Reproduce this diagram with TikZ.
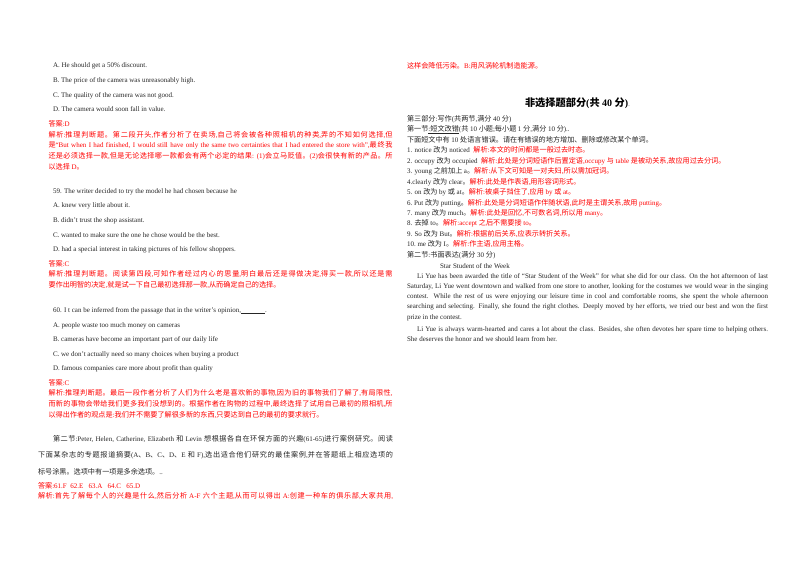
\documentclass[tikz,border=0pt]{standalone}
\usepackage{fontspec}
\setmainfont{Liberation Serif}
\newfontfamily\cjkfam[Scale=1.02]{Noto Sans CJK SC}
\makeatletter
\XeTeXinterchartokenstate=1
\newXeTeXintercharclass\cjkcl
\count@="3000 \loop\ifnum\count@<"3040 \XeTeXcharclass\count@=\cjkcl \advance\count@ 1 \repeat
\count@="4E00 \loop\ifnum\count@<"A000 \XeTeXcharclass\count@=\cjkcl \advance\count@ 1 \repeat
\count@="FF00 \loop\ifnum\count@<"FFF0 \XeTeXcharclass\count@=\cjkcl \advance\count@ 1 \repeat
\makeatother
\XeTeXinterchartoks 0 \cjkcl = {\cjkfam}
\XeTeXinterchartoks 4095 \cjkcl = {\cjkfam}
\XeTeXinterchartoks \cjkcl 0 = {\rmfamily}
\XeTeXinterchartoks 4095 0 = {\rmfamily}
\XeTeXinterchartoks \cjkcl \cjkcl = {\hskip 0pt plus 1pt minus .4pt}
\newcounter{lnno}
\tikzset{
  txtline/.style={anchor=base west,inner sep=0pt,outer sep=0pt,text=black!85,font=\fontsize{7}{8}\selectfont},
  ans/.style={txtline,text=red},
  pagebg/.style={fill=white,draw=none}
}
% natural width line: style, x, y, text
\newcommand{\tln}[4]{\stepcounter{lnno}\node[#1] (t\thelnno) at (#2,#3) {#4};}
% justified line: style, x, y, width, text
\newcommand{\jln}[5]{\stepcounter{lnno}\node[#1] (t\thelnno) at (#2,#3) {\makebox[#4pt][s]{#5}};}
\newcommand{\blank}{\underline{\hspace{24pt}}}
\begin{document}
\begin{tikzpicture}[x=1pt,y=-1pt]
\useasboundingbox (0,0) rectangle (800,566);
\fill[pagebg] (0,0) rectangle (800,566);
% left column
\tln{txtline}{53}{67.8}{A. He should get a 50\% discount.}
\tln{txtline}{53}{82.3}{B. The price of the camera was unreasonably high.}
\tln{txtline}{53}{97}{C. The quality of the camera was not good.}
\tln{txtline}{53}{111.5}{D. The camera would soon fall in value.}
\tln{ans}{48.5}{126}{答案:D}
\jln{ans}{48.5}{137}{344}{解析:推理判断题。第二段开头,作者分析了在卖场,自己将会被各种照相机的种类,弄的不知如何选择,但}
\jln{ans}{48.5}{147.5}{344}{是“But when I had finished, I would still have only the same two certainties that I had entered the store with”,最终我}
\jln{ans}{48.5}{158}{344}{还是必须选择一款,但是无论选择哪一款都会有两个必定的结果: (1)会立马贬值。(2)会很快有新的产品。所}
\tln{ans}{48.5}{169}{以选择 D。}
\tln{txtline}{53}{193}{59. The writer decided to try the model he had chosen because he}
\tln{txtline}{53}{207.6}{A. knew very little about it.}
\tln{txtline}{53}{222.3}{B. didn’t trust the shop assistant.}
\tln{txtline}{53}{237}{C. wanted to make sure the one he chose would be the best.}
\tln{txtline}{53}{251.7}{D. had a special interest in taking pictures of his fellow shoppers.}
\tln{ans}{48.5}{266}{答案:C}
\jln{ans}{48.5}{276.8}{344}{解析:推理判断题。阅读第四段,可知作者经过内心的思量,明白最后还是得做决定,得买一款,所以还是需}
\tln{ans}{48.5}{287.5}{要作出明智的决定,就是试一下自己最初选择那一款,从而确定自己的选择。}
\tln{txtline}{53}{312}{60. I t can be inferred from the passage that in the writer’s opinion,\blank.}
\tln{txtline}{53}{327}{A. people waste too much money on cameras}
\tln{txtline}{53}{341.5}{B. cameras have become an important part of our daily life}
\tln{txtline}{53}{356}{C. we don’t actually need so many choices when buying a product}
\tln{txtline}{53}{370.7}{D. famous companies care more about profit than quality}
\tln{ans}{48.5}{385}{答案:C}
\jln{ans}{48.5}{395.8}{344}{解析:推理判断题。最后一段作者分析了人们为什么老是喜欢新的事物,因为旧的事物我们了解了,有局限性,}
\jln{ans}{48.5}{406.3}{344}{而新的事物会带给我们更多我们没想到的。根据作者在购物的过程中,最终选择了试用自己最初的照相机,所}
\tln{ans}{48.5}{417}{以得出作者的观点是:我们并不需要了解很多新的东西,只要达到自己的最初的要求就行。}
\jln{txtline}{53}{441.8}{340}{第二节:Peter, Helen, Catherine, Elizabeth 和 Levin 想根据各自在环保方面的兴趣(61-65)进行案例研究。阅读}
\jln{txtline}{38}{457.3}{355}{下面某杂志的专题报道摘要(A、B、C、D、E 和 F),选出适合他们研究的最佳案例,并在答题纸上相应选项的}
\tln{txtline}{38}{474}{标号涂黑。选项中有一项是多余选项。..}
\tln{ans}{38}{488}{答案:61.F\ \ 62.E\ \ \ 63.A\ \ \ 64.C\ \ \ 65.D}
\jln{ans}{38}{498.5}{355}{解析:首先了解每个人的兴趣是什么,然后分析 A-F 六个主题,从而可以得出 A:创建一种车的俱乐部,大家共用,}
% right column
\tln{ans}{407}{68}{这样会降低污染。B:用风涡轮机制造能源。}
\node[txtline,font=\fontsize{10}{12}\selectfont\bfseries,text=black] (head) at (525,106) {非选择题部分(共 40 分)};
\node[txtline,font=\fontsize{4}{5}\selectfont] (headdots) at (head.base east) {..};
\tln{txtline}{407}{121}{第三部分:写作(共两节,满分 40 分)}
\tln{txtline}{407}{131.5}{第一节\underline{:短文改错}(共 10 小题;每小题 1 分,满分 10 分)..}
\tln{txtline}{407}{142}{下面短文中有 10 处语言错误。请在有错误的地方增加、删除或修改某个单词。}
\tln{txtline}{407}{152.5}{1. notice 改为 noticed\ \ \textcolor{red}{解析:本文的时间都是一般过去时态。}}
\tln{txtline}{407}{163}{2. occupy 改为 occupied\ \ \textcolor{red}{解析:此处是分词短语作后置定语,occupy 与 table 是被动关系,故应用过去分词。}}
\tln{txtline}{407}{173.5}{3. young 之前加上 a。\textcolor{red}{解析:从下文可知是一对夫妇,所以需加冠词。}}
\tln{txtline}{407}{184}{4.clearly 改为 clear。\textcolor{red}{解析:此处是作表语,用形容词形式。}}
\tln{txtline}{407}{194.5}{5. on 改为 by 或 at。\textcolor{red}{解析:被桌子挡住了,应用 by 或 at。}}
\tln{txtline}{407}{205}{6.\ Put 改为 putting。\textcolor{red}{解析:此处是分词短语作伴随状语,此时是主谓关系,故用 putting。}}
\tln{txtline}{407}{215.5}{7. many 改为 much。\textcolor{red}{解析:此处是回忆,不可数名词,所以用 many。}}
\tln{txtline}{407}{225.8}{8. 去掉 to。\textcolor{red}{解析:accept 之后不需要接 to。}}
\tln{txtline}{407}{236}{9. So 改为 But。\textcolor{red}{解析:根据前后关系,应表示转折关系。}}
\tln{txtline}{407}{246.8}{10.\ me 改为 I。\textcolor{red}{解析:作主语,应用主格。}}
\tln{txtline}{407}{257}{第二节:书面表达(满分 30 分)}
\tln{txtline}{440}{268}{Star Student of the Week}
\jln{txtline}{417}{278}{351}{Li Yue has been awarded the title of “Star Student of the Week” for what she did for our class. On the hot afternoon of last}
\jln{txtline}{407}{288}{361}{Saturday, Li Yue went downtown and walked from one store to another, looking for the costumes we would wear in the singing}
\jln{txtline}{407}{298.3}{361}{contest. While the rest of us were enjoying our leisure time in cool and comfortable rooms, she spent the whole afternoon}
\jln{txtline}{407}{308.7}{361}{searching and selecting. Finally, she found the right clothes. Deeply moved by her efforts, we tried our best and won the first}
\tln{txtline}{407}{319}{prize in the contest.}
\jln{txtline}{417}{331}{351}{Li Yue is always warm-hearted and cares a lot about the class. Besides, she often devotes her spare time to helping others.}
\tln{txtline}{407}{341}{She deserves the honor and we should learn from her.}
\end{tikzpicture}
\end{document}
